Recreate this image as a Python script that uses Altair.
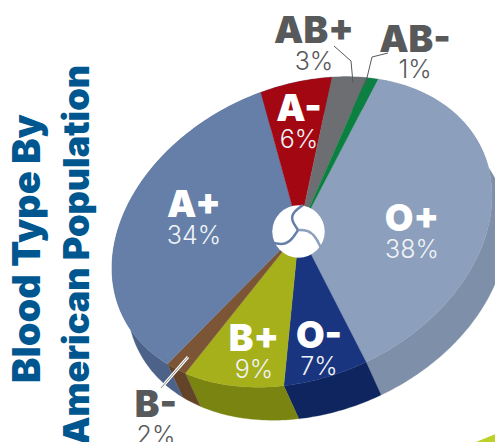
import math
import altair as alt

# --- values ---
blood = ["O+", "O-", "B+", "B-", "A+", "A-", "AB+", "AB-"]
share = [38, 7, 9, 2, 34, 6, 3, 1]
top_color = ["#8c9fbc", "#1a3580", "#a5b01a", "#7b5535", "#657fa8", "#a30712", "#6d6e71", "#0b8040"]
side_color = ["#7e8fa9", "#0f2560", "#7a8410", "#634429", "#4d6288", "#4d6288", "#4d6288", "#4d6288"]

label_x = [412, 319, 254, 156, 194, 299, 314, 415]
label_y = [231, 348, 351, 417, 217, 121, 43, 52]
pct_y = [258, 375, 378, 444, 244, 148, 70, 78]
label_fill = ["#ffffff"] * 3 + ["#58595b"] + ["#ffffff"] * 2 + ["#58595b"] * 2
pct_fill = ["#f0f3f7"] * 3 + ["#58595b"] + ["#f0f3f7"] * 2 + ["#58595b"] * 2

title_lines = ["Blood Type By", "American Population"]
title_x = [40, 89]
title_y = [383, 445]

leader_ab_plus = ([334, 351, 353], [46, 61, 83])
leader_ab_minus = ([388, 372, 365], [53, 57, 86])
leader_b_minus = ([188, 161], [357, 388])

swirl_a = ([298, 291, 293, 303], [230, 220, 212, 205])
swirl_b = ([298, 308, 316, 321], [230, 230, 237, 248])
swirl_c = ([298, 293, 286, 273], [230, 238, 245, 243])

# --- pie geometry (tilted disc) ---
CX, CY, RX, SKEW, RY = 302, 232, 190, -36, 151
APEX = (299, 231)
DROP = (15, 33)
START = -66.5


def rim(deg):
    t = math.radians(deg)
    return [CX + RX * math.cos(t), CY + SKEW * math.cos(t) + RY * math.sin(t)]


def feature(ring, name):
    return {"type": "Feature", "properties": {"name": name},
            "geometry": {"type": "Polygon", "coordinates": [ring + [ring[0]]]}}


tops, sides = [], []
angle = START
for name, s in zip(blood, share):
    n = max(2, int(s * 3.6))
    arc = [rim(angle + s * 3.6 * i / n) for i in range(n + 1)]
    tops.append(feature([list(APEX)] + arc, name))
    lower = [[p[0] + DROP[0], p[1] + DROP[1]] for p in reversed(arc)]
    sides.append(feature(arc + lower, name))
    angle += s * 3.6

X = alt.Scale(domain=[8, 495], range=[0, 487])
Y = alt.Scale(domain=[8, 442], range=[0, 434])


def geo(features, colors):
    return (alt.Chart(alt.Data(values=features)).mark_geoshape(strokeWidth=0.3)
            .project(type="identity", scale=1, translate=[-8, -8])
            .encode(fill=alt.Fill("properties.name:N", legend=None,
                                  scale=alt.Scale(domain=blood, range=colors)),
                    stroke=alt.Stroke("properties.name:N", legend=None,
                                      scale=alt.Scale(domain=blood, range=colors))))


def path(xs, ys, color, width, interpolate="linear"):
    rows = [{"x": a, "y": b, "i": i} for i, (a, b) in enumerate(zip(xs, ys))]
    return (alt.Chart(alt.Data(values=rows))
            .mark_line(color=color, strokeWidth=width, interpolate=interpolate)
            .encode(x=alt.X("x:Q", scale=X, axis=None), y=alt.Y("y:Q", scale=Y, axis=None),
                    order="i:Q"))


def words(texts, xs, ys, fills, size, weight, font, spacing_angle=0, align="center"):
    rows = [{"t": t, "x": a, "y": b, "c": c} for t, a, b, c in zip(texts, xs, ys, fills)]
    return (alt.Chart(alt.Data(values=rows))
            .mark_text(fontSize=size, fontWeight=weight, font=font, baseline="alphabetic",
                       align=align, angle=spacing_angle)
            .encode(x=alt.X("x:Q", scale=X, axis=None), y=alt.Y("y:Q", scale=Y, axis=None),
                    text="t:N", color=alt.Color("c:N", scale=None)))


hub_row = [{"x": 298.5, "y": 231.5}]
hub = (alt.Chart(alt.Data(values=hub_row)).mark_point(filled=True, color="white", opacity=1, size=2750)
       .encode(x=alt.X("x:Q", scale=X, axis=None), y=alt.Y("y:Q", scale=Y, axis=None)))

corner = feature([[476, 442], [503, 431], [503, 442]], "O+")
corner_layer = (alt.Chart(alt.Data(values=[corner])).mark_geoshape(fill="#bcd02a", strokeWidth=0)
                .project(type="identity", scale=1, translate=[-8, -8]))

chart = alt.layer(
    geo(sides, side_color),
    geo(tops, top_color),
    corner_layer,
    hub,
    path(*swirl_a, "#657fa8", 2.5, "basis"),
    path(*swirl_b, "#8c9fbc", 2.5, "basis"),
    path(*swirl_c, "#657fa8", 2.5, "basis"),
    path(*leader_ab_plus, "#58595b", 1),
    path(*leader_ab_minus, "#58595b", 1),
    path(*leader_b_minus, "#ffffff", 3),
    path(*leader_b_minus, "#8a8a8a", 1),
    words(blood, label_x, label_y, label_fill, 37, 900, "Inter"),
    words([f"{s}%" for s in share], label_x, pct_y, pct_fill, 25, 300, "Inter"),
    words(title_lines[:1], title_x[:1], title_y[:1], ["#00578f"], 38, 900, "Inter", 270, "left"),
    words(title_lines[1:], title_x[1:], title_y[1:], ["#00578f"], 36, 900, "Inter", 270, "left"),
).resolve_scale(color="independent", fill="independent", stroke="independent").properties(
    width=487, height=434, padding=0, autosize=alt.AutoSizeParams(type="none"),
    view=alt.ViewConfig(stroke=None), background="white",
)
chart.save("out.html", embed_options={"renderer": "svg", "actions": False})
